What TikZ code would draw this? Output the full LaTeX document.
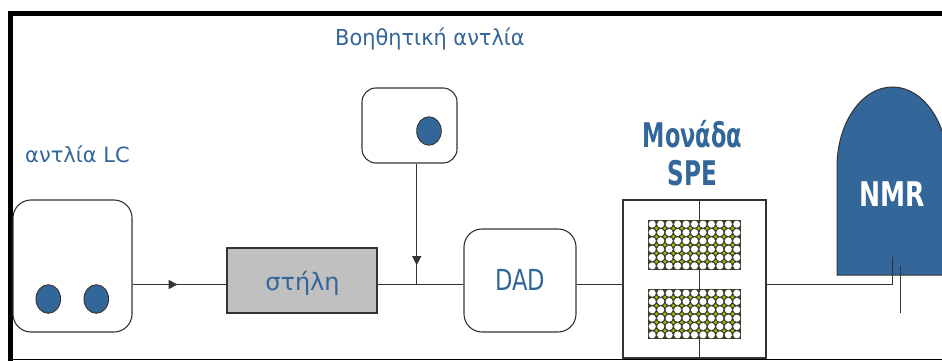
\documentclass[tikz,border=0pt]{standalone}
\usepackage{fontspec}
\setmainfont{DejaVu Sans}
\usetikzlibrary{arrows.meta,decorations.markings,calc}
\definecolor{tblue}{RGB}{51,102,153}
\definecolor{edge}{RGB}{51,51,51}
\definecolor{colgray}{RGB}{192,192,192}
\definecolor{wellgreen}{RGB}{150,200,0}
\definecolor{platebg}{RGB}{55,65,20}

\begin{document}
\begin{tikzpicture}[x=1pt,y=-1pt,
  box/.style={draw=edge, line width=1.1pt, fill=white, inner sep=0pt},
  pumpbox/.style={box, rounded corners=18pt},
  pumphead/.style={draw=edge, line width=0.9pt, fill=tblue},
  flow/.style={draw=edge, line width=1pt},
  midarrow/.style={postaction={decorate}, decoration={markings,
      mark=at position #1 with {\arrow{Triangle[length=9pt,width=9pt]}}}},
  lbl/.style={text=tblue, inner sep=0pt, anchor=base},
]
\useasboundingbox (0,0) rectangle (942,361);
\fill[white] (0,0) rectangle (942,361);

% outer frame
\draw[line width=5pt] (942,13.5) -- (10.5,13.5) -- (10.5,361);
\draw[line width=1.2pt] (8,359.6) -- (942,359.6);

% LC pump
\node[pumpbox, minimum width=119pt, minimum height=132pt] (lc) at (72.5,266) {};
\draw[pumphead] (48.3,299) ellipse [x radius=12.3, y radius=14.3];
\draw[pumphead] (96.3,299) ellipse [x radius=12.3, y radius=14.3];
\node[lbl, font=\fontsize{21}{24}\selectfont] (lclabel) at (77.5,162) {αντλία LC};

% column
\node[box, fill=colgray, minimum width=150pt, minimum height=65pt] (col) at (302,280.5) {};
\node[lbl, font=\fontsize{24}{28}\selectfont] (coltext) at (302.5,290) {στήλη};

% auxiliary pump
\node[pumpbox, rounded corners=14pt, minimum width=95pt, minimum height=75pt] (aux) at (409.5,125.5) {};
\draw[pumphead] (429,131) ellipse [x radius=12.3, y radius=14.2];
\node[lbl, font=\fontsize{22}{26}\selectfont] (auxlabel) at (430,46) {\scalebox{0.95}[1]{Βοηθητική αντλία}};

% diode array detector
\node[pumpbox, minimum width=112pt, minimum height=103pt] (dad) at (520,280.5) {};
\node[lbl, font=\fontsize{29}{32}\selectfont] (dadtext) at (520,290) {\scalebox{0.78}[1]{DAD}};

% SPE unit with two well plates
\node[box, minimum width=143pt, minimum height=158pt] (spe) at (694.5,279) {};
\draw[flow] ($(spe.north)+(4.5,0)$) -- ($(spe.south)+(4.5,0)$);
\foreach \gy in {220,289} {
  \fill[platebg] (648,\gy) rectangle (741,\gy+50);
  \foreach \i in {0,...,10} {
    \foreach \j in {0,...,5} {
      \draw[edge, line width=0.5pt, fill=white]
        ({648+(\i+0.5)*93/11},{\gy+(\j+0.5)*50/6}) circle [radius=4.0];
    }
  }
  \foreach \i in {1,...,10} {
    \foreach \j in {1,...,5} {
      \fill[wellgreen] ({648+\i*93/11},{\gy+\j*50/6}) circle [radius=1.7];
    }
  }
}
\node[lbl, font=\bfseries\fontsize{34}{38}\selectfont] (spelabel1) at (692.5,147) {\scalebox{0.66}[1]{Μονάδα}};
\node[lbl, font=\bfseries\fontsize{34}{38}\selectfont] (spelabel2) at (692.5,185) {\scalebox{0.68}[1]{SPE}};

% NMR magnet
\draw[edge, line width=1pt, fill=tblue] (837,275) -- (837,167)
  arc[start angle=180, end angle=360, x radius=55.5, y radius=80] -- (948,275) -- cycle;
\node[lbl, text=white, font=\bfseries\fontsize{34}{38}\selectfont] (nmr) at (892,206) {\scalebox{0.74}[1]{NMR}};

% flow connections
\coordinate (jn) at (416.7,284.5);
\coordinate (nmrin) at (892.7,257);
\coordinate (probeA) at (900,266);
\coordinate (probeB) at (900,313);
\draw[flow, midarrow=0.48] (lc.east |- jn) -- (col.west |- jn);
\draw[flow] (col.east |- jn) -- (dad.west |- jn);
\draw[flow, midarrow=0.84] (jn |- aux.south) -- (jn);
\draw[flow] (dad.east |- jn) -- (spe.west |- jn);
\draw[flow] (spe.east |- jn) -- (nmrin |- jn) -- (nmrin);
\draw[flow] (probeA) -- (probeB);
\end{tikzpicture}
\end{document}
